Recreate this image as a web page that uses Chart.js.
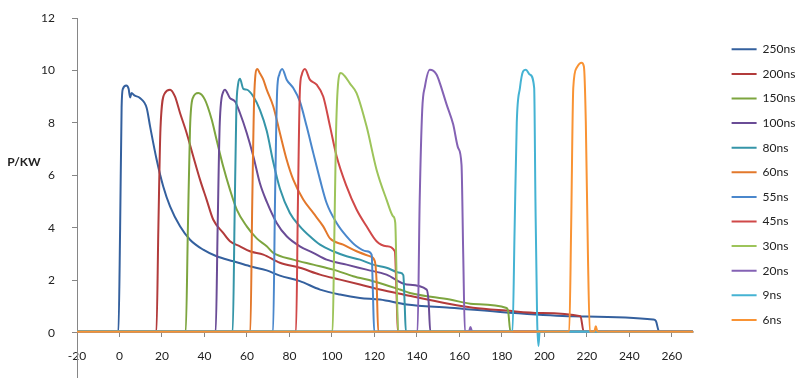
<!DOCTYPE html>
<html>
<head>
<meta charset="utf-8">
<title>Pulse power</title>
<script src="https://cdn.jsdelivr.net/npm/chart.js"></script>
<style>
  body { margin: 0; background: #fff; }
  canvas { display: block; }
</style>
</head>
<body>
<canvas id="pulseChart" width="800" height="378"></canvas>
<script>
// series names, in legend order
const seriesNames = ['250ns', '200ns', '150ns', '100ns', '80ns', '60ns', '55ns', '45ns', '30ns', '20ns', '9ns', '6ns'];
const seriesColors = ['#34609E', '#B23B3B', '#7DA53F', '#6A4C96', '#3595A8', '#E3782B',
                      '#4A87CC', '#D04848', '#9DC45A', '#8462B4', '#45B3D3', '#F99334'];
const yTitle = 'P/KW';
const xTicks = [-20, 0, 20, 40, 60, 80, 100, 120, 140, 160, 180, 200, 220, 240, 260];
const yTicks = [0, 2, 4, 6, 8, 10, 12];

// [time, power]
const s250 = [[-20,0.05],[-10,0.03],[-0.5,0.05],[0.3,4],[1,8.6],[1.6,9.3],[3.2,9.43],[4.3,9.3],[5,8.97],[5.7,9.14],[7,9.05],[9.6,8.95],[12.8,8.57],[14.4,7.87],[17.5,6.6],[20.6,5.58],[23.8,4.82],[28.5,4.06],[33.2,3.55],[39.4,3.17],[45.7,2.92],[53.6,2.73],[61.4,2.54],[69.3,2.38],[75.5,2.18],[84.9,1.97],[94.4,1.65],[103.8,1.46],[113.2,1.33],[122.6,1.27],[135.2,1.08],[155.5,0.96],[182,0.78],[213.4,0.63],[251.2,0.51],[252.5,0.45],[254,0.05],[270,0.04]];
const s200 = [[-20,0.04],[17.4,0.05],[18.3,4],[19.3,7.8],[21.4,9.14],[23.8,9.27],[26.1,9.01],[28.5,8.38],[31.6,7.62],[34.7,6.73],[37.9,5.84],[41,5.08],[44.1,4.32],[48.8,3.81],[52,3.49],[56.7,3.3],[61.4,3.11],[67.7,2.98],[75.5,2.67],[84.9,2.48],[94.4,2.22],[103.8,2.03],[113.2,1.84],[122.6,1.65],[133.6,1.46],[155.5,1.1],[166.4,0.96],[182,0.85],[197.9,0.76],[217,0.63],[218.5,0.05],[270,0.04]];
const s150 = [[-20,0.05],[31.2,0.05],[32.2,4],[33.2,7.8],[34.5,8.95],[37.1,9.14],[40.2,8.89],[43.4,8.13],[45.7,7.36],[48.8,6.35],[52,5.46],[55.2,4.7],[59.9,4.06],[64.6,3.6],[69.3,3.3],[72.4,3.05],[81.8,2.79],[91.2,2.6],[100.6,2.41],[110,2.16],[119.4,1.97],[132,1.65],[136.7,1.52],[155.5,1.27],[166.5,1.1],[182.2,0.95],[183,0.8],[184,0.05],[270,0.04]];
const s100 = [[-20,0.04],[45.3,0.05],[46.2,4],[47.2,8],[48.9,9.2],[49.6,9.27],[52,8.95],[54.4,8.82],[56.7,8.38],[59.9,7.62],[63,6.73],[66.1,5.7],[69.3,5.0],[74,4.19],[78.7,3.68],[84.9,3.3],[91.2,3.05],[97.5,2.79],[106.9,2.6],[116.3,2.41],[125.7,2.22],[135.2,1.84],[144.6,1.65],[145.5,1.2],[146.3,0.05],[270,0.04]];
const s80 = [[-20,0.05],[53.3,0.05],[54.2,4.5],[55,8.5],[55.8,9.46],[56.7,9.68],[58.3,9.3],[59.9,9.27],[63,9.01],[66.1,8.5],[69.3,7.7],[72.4,6.5],[75.5,5.5],[80.2,4.57],[84.9,4.06],[89.6,3.68],[94.4,3.36],[100.6,3.11],[106.9,2.92],[113.2,2.79],[119.4,2.6],[125.7,2.48],[132,2.29],[133.6,2.2],[134.2,1.2],[134.8,0.05],[270,0.04]];
const s60 = [[-20,0.04],[61.6,0.05],[62.5,5],[63.5,9.2],[64.9,10.06],[66,9.9],[67.7,9.65],[69.3,9.27],[72.4,8.63],[75.5,7.62],[78.7,6.6],[81.8,5.84],[86.5,5.08],[91.2,4.57],[95.9,4.06],[99.1,3.6],[105.3,3.36],[111.6,3.11],[117.9,2.92],[120.2,2.73],[121,2],[121.8,0.05],[270,0.04]];
const s55 = [[-20,0.05],[72.3,0.05],[73.2,5],[74.2,9.2],[75.2,9.84],[76.6,10.06],[78.7,9.65],[81.8,9.33],[84.9,8.82],[88.1,7.87],[91.2,6.86],[94.4,5.84],[97.5,4.95],[102.2,4.19],[106.9,3.68],[111.6,3.3],[116.3,3.11],[118.7,2.98],[119.3,1.5],[119.9,0.05],[270,0.04]];
const s45 = [[-20,0.04],[83.1,0.05],[84,5],[84.9,9.2],[85.8,9.84],[87.3,10.06],[89.6,9.65],[92.8,9.46],[95.9,9.01],[99.1,7.87],[102.2,6.73],[106.9,5.58],[111.6,4.7],[116.3,4.06],[121,3.49],[125.7,3.3],[129.6,3.11],[130.4,1.5],[131,0.05],[270,0.04]];
const s30 = [[-20,0.05],[100.3,0.05],[101,3],[101.9,7.5],[102.8,9.4],[104.2,9.9],[106.1,9.78],[108.5,9.5],[111.6,9.14],[116.3,7.87],[121,6.22],[125.7,5.08],[128.8,4.44],[129.8,4.2],[130.6,1.5],[131.2,0.05],[270,0.04]];
const s20 = [[-20,0.04],[140.3,0.05],[141.3,5],[142.5,8.5],[143.8,9.4],[146.1,10.03],[149.3,9.84],[150.8,9.52],[154,8.7],[157.1,7.94],[159.4,7.05],[161,6.4],[161.8,3],[162.6,0.05],[164.5,0.05],[165.2,0.22],[166,0.05],[270,0.04]];
const s9 = [[-20,0.05],[185,0.05],[186,4],[187,8],[188.5,9.34],[190,9.97],[191.3,10.03],[193.2,9.84],[195.2,9.34],[195.8,5],[196.6,0.5],[197.2,-0.5],[197.8,0.05],[270,0.04]];
const s6 = [[-20,0.04],[211.7,0.05],[212.6,4],[213.6,9.33],[215.2,10.1],[217.5,10.29],[218.6,10.15],[219.5,8.06],[220.5,3],[221.4,0.05],[223.5,0.05],[224.2,0.25],[225,0.05],[270,0.04]];

const seriesData = [s250, s200, s150, s100, s80, s60, s55, s45, s30, s20, s9, s6];

const fontFamily = 'Lato';
const textColor = '#222';
const axisColor = '#868686';

// build datasets; later series sit on top like in Excel
const datasets = seriesNames.map((name, i) => ({
  label: name,
  data: seriesData[i].map(p => ({ x: p[0], y: p[1] })),
  borderColor: seriesColors[i],
  backgroundColor: seriesColors[i],
  borderWidth: 2,
  pointRadius: 0,
  showLine: true,
  cubicInterpolationMode: 'monotone',
  order: seriesNames.length - i
}));

// horizontal axis title beside the y axis
const yTitlePlugin = {
  id: 'yTitle',
  afterDraw(chart) {
    const ctx = chart.ctx;
    ctx.save();
    ctx.font = 'bold 12px ' + fontFamily;
    ctx.fillStyle = textColor;
    ctx.textAlign = 'center';
    ctx.textBaseline = 'middle';
    ctx.fillText(yTitle, 24, 162);
    ctx.restore();
  }
};

// fixed legend width and top
const legendPlace = {
  id: 'legendPlace',
  beforeInit(chart) {
    const lg = chart.legend;
    const fit = lg.fit;
    lg.fit = function () {
      fit.call(this);
      this.width = 81;
    };
  },
  afterLayout(chart) {
    chart.legend.top = 30.7;
  }
};

const ctx = document.getElementById('pulseChart').getContext('2d');
const myChart = new Chart(ctx, {
  type: 'scatter',
  data: { datasets: datasets },
  options: {
    responsive: false,
    animation: false,
    layout: { padding: { top: 18, bottom: 0, left: 0, right: 0 } },
    plugins: {
      legend: {
        position: 'right',
        align: 'start',
        labels: {
          usePointStyle: true,
          pointStyle: 'line',
          pointStyleWidth: 25,
          padding: 12.6,
          color: textColor,
          font: { family: fontFamily, size: 12 },
          sort: (a, b) => a.datasetIndex - b.datasetIndex
        }
      },
      tooltip: { enabled: false }
    },
    scales: {
      x: {
        type: 'linear',
        position: { y: 0 },
        min: -20,
        max: 282.2,
        afterBuildTicks: s => { s.ticks = xTicks.map(v => ({ value: v })); },
        grid: { drawOnChartArea: false, drawTicks: true, tickLength: 4, color: axisColor },
        border: { display: false },
        ticks: { padding: 12.5, color: textColor, font: { family: fontFamily, size: 12 }, maxRotation: 0, autoSkip: false }
      },
      y: {
        min: -1.72,
        max: 12,
        afterBuildTicks: s => { s.ticks = yTicks.map(v => ({ value: v })); },
        // keep the plot area at the full height; labels sit outside it
        afterFit: s => { s.width = 77; s.paddingTop = 0; s.paddingBottom = 0; },
        grid: { drawOnChartArea: false, drawTicks: true, tickLength: 5, color: axisColor },
        border: { display: true, color: axisColor, width: 1 },
        ticks: { padding: 17, color: textColor, font: { family: fontFamily, size: 12 } }
      }
    }
  },
  plugins: [yTitlePlugin, legendPlace]
});
</script>
</body>
</html>
